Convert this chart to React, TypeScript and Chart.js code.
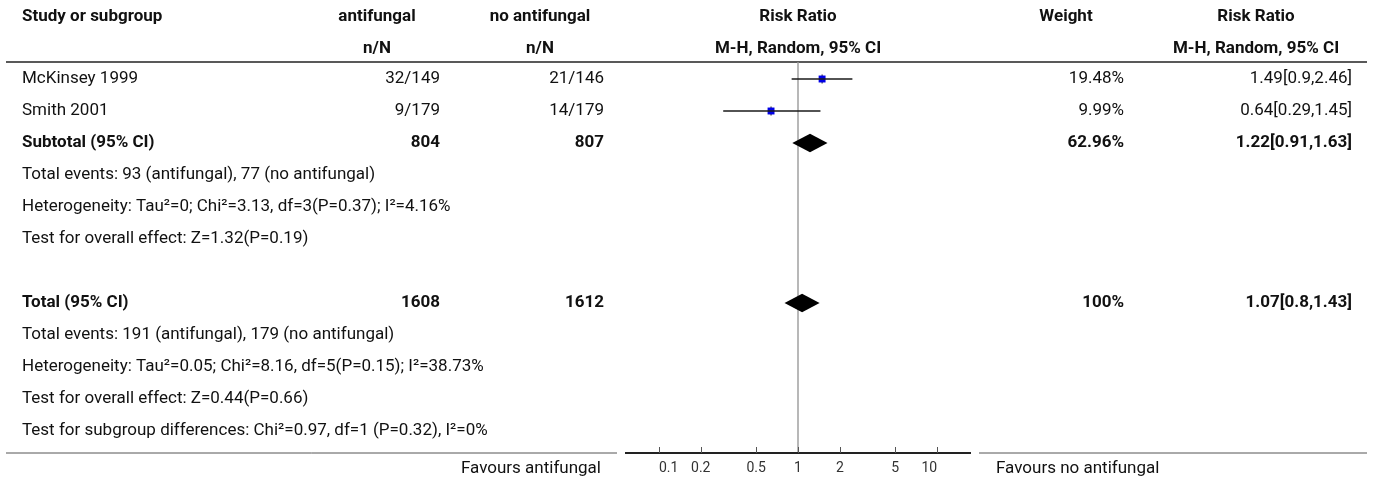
import React, { useEffect, useRef } from 'react';
import { Chart, registerables } from 'chart.js';

Chart.register(...registerables);

// ---------- data ----------
const studyNames = ['McKinsey 1999', 'Smith 2001'];
const antifungalEvents = [32, 9];
const antifungalTotals = [149, 179];
const controlEvents = [21, 14];
const controlTotals = [146, 179];
const riskRatios = [1.49, 0.64];
const ciLower = [0.9, 0.29];
const ciUpper = [2.46, 1.45];
const studyWeights = ['19.48%', '9.99%'];

const subtotalLabel = 'Subtotal (95% CI)';
const subtotalTotals = [804, 807];
const subtotalWeight = '62.96%';
const subtotalRR = [1.22, 0.91, 1.63];
const subtotalNotes = [
  'Total events: 93 (antifungal), 77 (no antifungal)',
  'Heterogeneity: Tau²=0; Chi²=3.13, df=3(P=0.37); I²=4.16%',
  'Test for overall effect: Z=1.32(P=0.19)',
];

const totalLabel = 'Total (95% CI)';
const totalTotals = [1608, 1612];
const totalWeight = '100%';
const totalRR = [1.07, 0.8, 1.43];
const totalNotes = [
  'Total events: 191 (antifungal), 179 (no antifungal)',
  'Heterogeneity: Tau²=0.05; Chi²=8.16, df=5(P=0.15); I²=38.73%',
  'Test for overall effect: Z=0.44(P=0.66)',
  'Test for subgroup differences: Chi²=0.97, df=1 (P=0.32), I²=0%',
];

const headerTop = ['Study or subgroup', 'antifungal', 'no antifungal', 'Risk Ratio', 'Weight', 'Risk Ratio'];
const headerSub = ['n/N', 'n/N', 'M-H, Random, 95% CI', 'M-H, Random, 95% CI'];
const xTicks = [0.1, 0.2, 0.5, 1, 2, 5, 10];
const xMin = 0.05;
const xMax = 20;
const favoursLeft = 'Favours antifungal';
const favoursRight = 'Favours no antifungal';

// ---------- layout / style ----------
const W = 1375;
const H = 484;
const FONT = 'Roboto, "Noto Sans", sans-serif';
const FS = 17;
const FSB = 17;
const TEXT = '#111';
const colStudy = 22;
const colA = 440;
const colB = 604;
const colWeight = 1124;
const colRR = 1352;
const colHeadA = 377;
const colHeadB = 540;
const colHeadW = 1066;
const colHeadRR = 1256;
const lineLeft = 6;
const lineRight = 1367;

const subtotalRow = studyNames.length;
const totalRow = subtotalRow + subtotalNotes.length + 2;
const rowMin = -0.53125;
const rowMax = 11.6875;
const headRow1 = -1.94;
const headRow2 = -0.94;

const fmtRR = (v: number[]) => `${v[0]}[${v[1]},${v[2]}]`;

export default function App() {
  const ref = useRef<HTMLCanvasElement | null>(null);

  useEffect(() => {
    document.body.style.margin = '0';
    const canvas = ref.current!;

    const tablePlugin = {
      id: 'forestTable',
      beforeDatasetsDraw(chart: any) {
        const { ctx, chartArea, scales } = chart;
        const x = scales.x;
        ctx.save();
        // header rule
        ctx.strokeStyle = '#222';
        ctx.lineWidth = 1.5;
        ctx.beginPath();
        ctx.moveTo(lineLeft, chartArea.top);
        ctx.lineTo(lineRight, chartArea.top);
        ctx.stroke();
        // line of no effect
        const x1 = x.getPixelForValue(1);
        ctx.strokeStyle = '#9a9a9a';
        ctx.lineWidth = 1.4;
        ctx.beginPath();
        ctx.moveTo(x1, chartArea.top);
        ctx.lineTo(x1, chartArea.bottom);
        ctx.stroke();
        // bottom rules
        ctx.strokeStyle = '#555';
        ctx.lineWidth = 1;
        ctx.beginPath();
        ctx.moveTo(lineLeft, chartArea.bottom);
        ctx.lineTo(chartArea.left, chartArea.bottom);
        ctx.moveTo(chartArea.right, chartArea.bottom);
        ctx.lineTo(lineRight, chartArea.bottom);
        ctx.stroke();
        ctx.strokeStyle = '#222';
        ctx.lineWidth = 2;
        ctx.beginPath();
        ctx.moveTo(chartArea.left + 8, chartArea.bottom);
        ctx.lineTo(chartArea.right - 8, chartArea.bottom);
        ctx.stroke();
        // tick marks (pointing up)
        ctx.strokeStyle = '#555';
        ctx.lineWidth = 1;
        ctx.beginPath();
        xTicks.forEach((t) => {
          const px = Math.round(x.getPixelForValue(t)) + 0.5;
          ctx.moveTo(px, chartArea.bottom);
          ctx.lineTo(px, chartArea.bottom - 6);
        });
        ctx.stroke();
        ctx.restore();
      },
      afterDatasetsDraw(chart: any) {
        const { ctx, scales } = chart;
        const x = scales.x;
        const y = scales.y;
        ctx.save();
        // pooled diamonds
        ctx.fillStyle = '#000';
        [
          [subtotalRow, subtotalRR],
          [totalRow, totalRR],
        ].forEach(([row, rr]: any) => {
          const cy = y.getPixelForValue(row);
          const half = Math.abs(y.getPixelForValue(row + 0.29) - cy);
          ctx.beginPath();
          ctx.moveTo(x.getPixelForValue(rr[1]), cy);
          ctx.lineTo(x.getPixelForValue(rr[0]), cy - half);
          ctx.lineTo(x.getPixelForValue(rr[2]), cy);
          ctx.lineTo(x.getPixelForValue(rr[0]), cy + half);
          ctx.closePath();
          ctx.fill();
        });

        ctx.fillStyle = TEXT;
        ctx.textBaseline = 'middle';
        const put = (t: string, px: number, row: number, align: CanvasTextAlign, bold = false) => {
          ctx.font = bold ? `bold ${FSB}px ${FONT}` : `${FS}px ${FONT}`;
          ctx.textAlign = align;
          ctx.fillText(t, px, y.getPixelForValue(row));
        };
        const mid = x.getPixelForValue(1);
        // headers
        put(headerTop[0], colStudy, headRow1, 'left', true);
        put(headerTop[1], colHeadA, headRow1, 'center', true);
        put(headerTop[2], colHeadB, headRow1, 'center', true);
        put(headerTop[3], mid, headRow1, 'center', true);
        put(headerTop[4], colHeadW, headRow1, 'center', true);
        put(headerTop[5], colHeadRR, headRow1, 'center', true);
        put(headerSub[0], colHeadA, headRow2, 'center', true);
        put(headerSub[1], colHeadB, headRow2, 'center', true);
        put(headerSub[2], mid, headRow2, 'center', true);
        put(headerSub[3], colHeadRR, headRow2, 'center', true);
        // studies
        studyNames.forEach((n, i) => {
          put(n, colStudy, i, 'left');
          put(`${antifungalEvents[i]}/${antifungalTotals[i]}`, colA, i, 'right');
          put(`${controlEvents[i]}/${controlTotals[i]}`, colB, i, 'right');
          put(studyWeights[i], colWeight, i, 'right');
          put(fmtRR([riskRatios[i], ciLower[i], ciUpper[i]]), colRR, i, 'right');
        });
        // subtotal
        put(subtotalLabel, colStudy, subtotalRow, 'left', true);
        put(String(subtotalTotals[0]), colA, subtotalRow, 'right', true);
        put(String(subtotalTotals[1]), colB, subtotalRow, 'right', true);
        put(subtotalWeight, colWeight, subtotalRow, 'right', true);
        put(fmtRR(subtotalRR), colRR, subtotalRow, 'right', true);
        subtotalNotes.forEach((n, i) => put(n, colStudy, subtotalRow + 1 + i, 'left'));
        // total
        put(totalLabel, colStudy, totalRow, 'left', true);
        put(String(totalTotals[0]), colA, totalRow, 'right', true);
        put(String(totalTotals[1]), colB, totalRow, 'right', true);
        put(totalWeight, colWeight, totalRow, 'right', true);
        put(fmtRR(totalRR), colRR, totalRow, 'right', true);
        totalNotes.forEach((n, i) => put(n, colStudy, totalRow + 1 + i, 'left'));
        // favours labels
        const fy = y.getPixelForValue(rowMax) + 16;
        ctx.font = `${FS}px ${FONT}`;
        ctx.textAlign = 'right';
        ctx.fillText(favoursLeft, 601, fy);
        ctx.textAlign = 'left';
        ctx.fillText(favoursRight, 996, fy);
        ctx.restore();
      },
    };

    const ciSets = studyNames.map((_, i) => ({
      type: 'line' as const,
      data: [
        { x: ciLower[i], y: i },
        { x: ciUpper[i], y: i },
      ],
      borderColor: '#1a1a1a',
      borderWidth: 1.3,
      pointRadius: 0,
      showLine: true,
    }));

    const chart = new Chart(canvas, {
      type: 'scatter',
      data: {
        datasets: [
          ...ciSets,
          {
            type: 'scatter' as const,
            data: studyNames.map((_, i) => ({ x: riskRatios[i], y: i })),
            pointStyle: 'rect',
            pointRadius: 4.9,
            backgroundColor: '#0000e6',
            borderColor: '#0000e6',
            borderWidth: 0,
          },
          {
            type: 'scatter' as const,
            data: studyNames.map((_, i) => ({ x: riskRatios[i], y: i })),
            pointStyle: 'line',
            pointRotation: 90,
            pointRadius: 4.5,
            borderColor: '#111',
            borderWidth: 1,
          },
        ] as any,
      },
      options: {
        responsive: false,
        animation: false,
        devicePixelRatio: 1,
        events: [],
        layout: { padding: { left: 617, right: W - 979, top: 62, bottom: 0 } },
        plugins: { legend: { display: false }, tooltip: { enabled: false }, title: { display: false } },
        scales: {
          x: {
            type: 'logarithmic',
            min: xMin,
            max: xMax,
            grid: { display: false, drawTicks: false },
            border: { display: false },
            afterBuildTicks: (scale: any) => {
              scale.ticks = xTicks.map((v) => ({ value: v }));
            },
            afterFit: (scale: any) => {
              scale.height = H - 453;
            },
            ticks: {
              autoSkip: false,
              maxRotation: 0,
              align: 'inner',
              padding: 7,
              color: '#333',
              font: { family: FONT, size: 14 },
              callback: (v: any) => String(v),
            },
          },
          y: {
            type: 'linear',
            display: false,
            min: rowMin,
            max: rowMax,
            reverse: true,
          },
        },
      },
      plugins: [tablePlugin],
    });
    return () => chart.destroy();
  }, []);

  return <canvas ref={ref} width={W} height={H} style={{ display: 'block' }} />;
}
